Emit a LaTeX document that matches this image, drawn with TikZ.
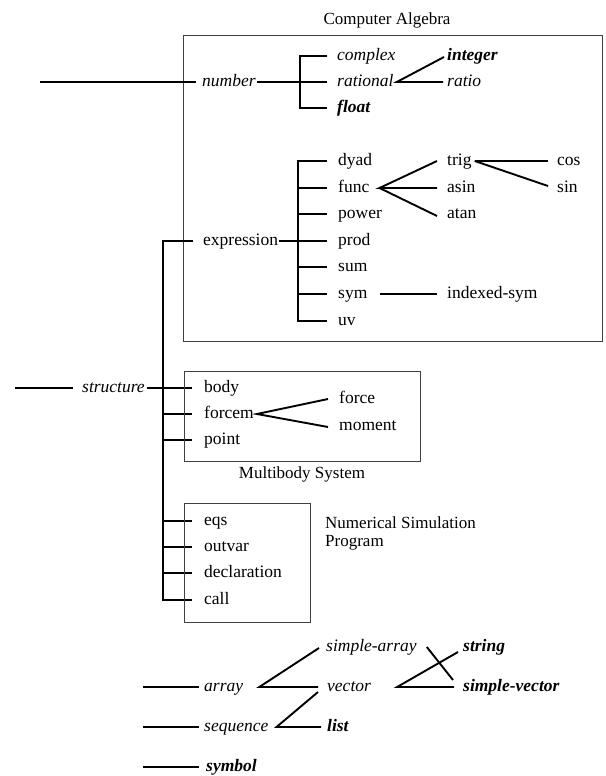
\documentclass[tikz,border=0pt]{standalone}
\usepackage{fontspec}
\setmainfont{Liberation Serif}
\begin{document}
\begin{tikzpicture}[x=1pt,y=-1pt,
  lbl/.style={anchor=west,inner sep=0pt,text height=8pt,text depth=0pt,font=\fontsize{17.5}{18}\selectfont},
  it/.style={lbl,font=\fontsize{17.5}{18}\selectfont\itshape},
  bi/.style={lbl,font=\fontsize{17.5}{18}\selectfont\bfseries\itshape},
  captxt/.style={inner sep=0pt,font=\fontsize{17}{18}\selectfont},
  ln/.style={line width=1.9pt},
  frame/.style={draw=black!75,line width=0.9pt}]
\useasboundingbox (0,0) rectangle (605,776);

% ---------- Computer Algebra ----------
\node[captxt] (title) at (387,20) {Computer Algebra};
\draw[frame] (183,35) rectangle (602,341);

\node[it] (number) at (202,82) {number};
\coordinate (numL) at (40,82);
\coordinate (nb) at (300,82);
\draw[ln] (numL) -- ([xshift=-6pt]number.west);
\draw[ln] ([xshift=1pt]number.east) -- (nb);

\node[it] (complex) at (337,56) {complex};
\node[it] (rational) at (337,82) {rational};
\node[bi] (float) at (337,108) {float};
\draw[ln] ([xshift=-10pt]complex.west) -- ++(-27,0) |- ([xshift=-10pt]float.west);
\draw[ln] (nb) -- ([xshift=-10pt]rational.west);

\node[bi] (integer) at (447,56) {integer};
\node[it] (ratio) at (447,82) {ratio};
\coordinate (rv) at ([xshift=3pt]rational.east);
\draw[ln] ([xshift=-3pt,yshift=-1pt]integer.west) -- (rv) -- ([xshift=-4pt]ratio.west);

\node[lbl] (expression) at (203,241) {expression};
\node[lbl] (dyad) at (338,161) {dyad};
\node[lbl] (func) at (338,188) {func};
\node[lbl] (power) at (338,214) {power};
\node[lbl] (prod) at (338,241) {prod};
\node[lbl] (sum) at (338,267) {sum};
\node[lbl] (sym) at (338,294) {sym};
\node[lbl] (uv) at (338,321) {uv};
\draw[ln] ([xshift=-11pt]dyad.west) -- ++(-29,0) |- ([xshift=-11pt]uv.west);
\foreach \n in {func,power,prod,sum,sym}
  \draw[ln] ([xshift=-11pt]\n.west) -- ++(-29,0);
\draw[ln] ([xshift=1pt]expression.east) -- ([xshift=-40pt]prod.west);

\node[lbl] (trig) at (447,161) {trig};
\node[lbl] (asin) at (447,188) {asin};
\node[lbl] (atan) at (447,214) {atan};
\coordinate (fv) at ([xshift=10pt]func.east);
\draw[ln] ([xshift=-10pt]trig.west) -- (fv) -- ([xshift=-10pt]asin.west);
\draw[ln] (fv) -- ([xshift=-10pt,yshift=-2pt]atan.west);

\node[lbl] (cos) at (557,161) {cos};
\node[lbl] (sin) at (557,188) {sin};
\coordinate (tv) at ([xshift=3pt]trig.east);
\draw[ln] (tv) -- ([xshift=-9pt]cos.west);
\draw[ln] (tv) -- ([xshift=-9pt,yshift=2pt]sin.west);

\node[lbl] (indexedsym) at (447,294) {indexed-sym};
\draw[ln] ([xshift=12pt]sym.east) -- ([xshift=-10pt]indexedsym.west);

% ---------- structure ----------
\node[it] (structure) at (82,388) {structure};
\coordinate (strL) at (15,388);
\draw[ln] (strL) -- ([xshift=-9pt]structure.west);

\node[lbl] (body) at (204,388) {body};
\node[lbl] (forcem) at (204,414) {forcem};
\node[lbl] (point) at (204,440) {point};
\draw[ln] ([xshift=2pt]structure.east) -- ([xshift=-12pt]body.west);

\node[lbl] (eqs) at (204,521) {eqs};
\node[lbl] (outvar) at (204,547) {outvar};
\node[lbl] (declaration) at (204,573) {declaration};
\node[lbl] (call) at (204,600) {call};

\coordinate (vtop) at (163,241);
\draw[ln] ([xshift=-10pt]expression.west) -- (vtop) |- ([xshift=-12pt]call.west);
\foreach \n in {forcem,point,eqs,outvar,declaration}
  \draw[ln] ([xshift=-12pt]\n.west) -- ++(-29,0);

% ---------- Multibody System ----------
\draw[frame] (184,371) rectangle (420,461);
\node[captxt] (mbs) at (302,474) {Multibody System};
\node[lbl] (force) at (339,399) {force};
\node[lbl] (moment) at (339,426) {moment};
\coordinate (mv) at ([xshift=3pt]forcem.east);
\draw[ln] ([xshift=-11pt]force.west) -- (mv) -- ([xshift=-11pt,yshift=-1pt]moment.west);

% ---------- Numerical Simulation Program ----------
\draw[frame] (184,503) rectangle (310,622);
\node[captxt,anchor=base west,align=left] (nsp) at (325,546) {Numerical Simulation\\Program};

% ---------- bottom ----------
\node[it] (sarray) at (326,647) {simple-array};
\node[bi] (string) at (463,647) {string};
\node[it] (array) at (204,687) {array};
\node[it] (vector) at (327,687) {vector};
\node[bi] (svector) at (463,687) {simple-vector};
\node[it] (sequence) at (204,727) {sequence};
\node[bi] (list) at (327,727) {list};
\node[bi] (symbol) at (206,767) {symbol};

\coordinate (arrL) at (143,687);
\coordinate (seqL) at (143,727);
\coordinate (symL) at (143,767);
\draw[ln] (arrL) -- ([xshift=-5pt]array.west);
\draw[ln] (seqL) -- ([xshift=-5pt]sequence.west);
\draw[ln] (symL) -- ([xshift=-7pt]symbol.west);

\coordinate (av) at ([xshift=16pt]array.east);
\draw[ln] ([xshift=-7pt,yshift=-1pt]sarray.west) -- (av) -- ([xshift=-9pt]vector.west);
\coordinate (sv) at ([xshift=8pt]sequence.east);
\draw[ln] ([xshift=-9pt,yshift=-5pt]vector.west) -- (sv) -- ([xshift=-6pt]list.west);
\coordinate (vv) at ([xshift=26pt]vector.east);
\draw[ln] ([xshift=-5pt,yshift=-5pt]string.west) -- (vv) -- ([xshift=-9pt]svector.west);
\draw[ln] ([xshift=10pt]sarray.east) -- ([xshift=-10pt,yshift=7pt]svector.west);
\end{tikzpicture}
\end{document}
